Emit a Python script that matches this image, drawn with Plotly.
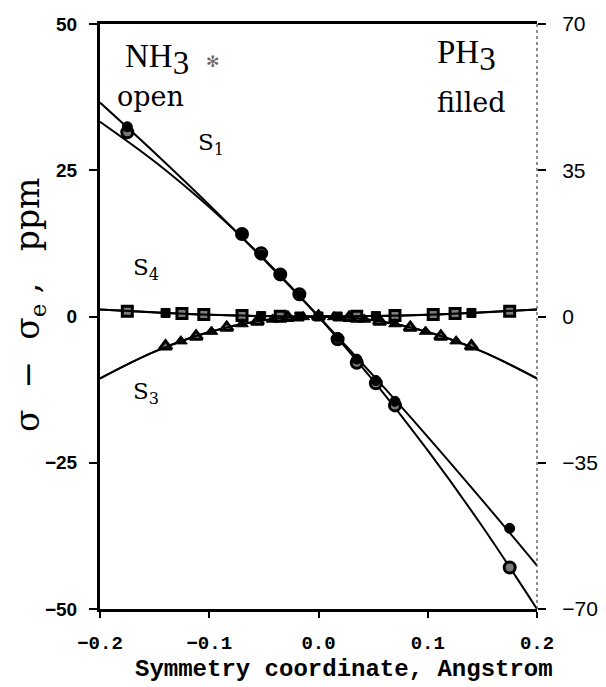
import plotly.graph_objects as go

# ---------------- data ----------------
# fitted curves, sampled along the x axis
x_fit = [-0.2, -0.15, -0.1, -0.05, 0.0, 0.05, 0.1, 0.15, 0.2]
nh3_s1_fit = [33.3, 26.5, 18.7, 9.9, 0.0, -10.9, -22.9, -35.9, -50.0]      # NH3, left axis (ppm)
ph3_s1_fit = [51.2, 39.2, 26.7, 13.6, 0.0, -14.1, -28.8, -44.0, -59.6]     # PH3, right axis (ppm)
nh3_s4_fit = [1.2, 0.7, 0.3, 0.08, 0.0, 0.08, 0.3, 0.7, 1.2]
ph3_s4_fit = [1.7, 1.0, 0.4, 0.1, 0.0, 0.1, 0.4, 1.0, 1.7]
nh3_s3_fit = [-10.6, -6.0, -2.65, -0.66, 0.0, -0.66, -2.65, -6.0, -10.6]
ph3_s3_fit = [-14.8, -8.4, -3.7, -0.9, 0.0, -0.9, -3.7, -8.4, -14.8]

# S1 points
x_s1 = [-0.175, -0.07, -0.0525, -0.035, -0.0175, 0.0175, 0.035, 0.0525, 0.07, 0.175]
nh3_s1 = [31.5, 14.1, 10.8, 7.2, 3.8, -3.9, -7.9, -11.4, -15.2, -42.9]
ph3_s1 = [45.4, 19.6, 14.7, 9.8, 5.0, -5.0, -10.2, -15.3, -20.3, -50.7]

# S4 points
x_s4_nh3 = [-0.175, -0.125, -0.105, -0.07, -0.035, 0.035, 0.07, 0.105, 0.125, 0.175]
nh3_s4 = [0.9, 0.5, 0.35, 0.15, 0.05, 0.05, 0.15, 0.35, 0.5, 0.9]
x_s4_ph3 = [-0.14, -0.0525, -0.0175, 0.0, 0.0175, 0.0525, 0.14]
ph3_s4 = [0.85, 0.1, 0.0, 0.0, 0.0, 0.1, 0.85]

# S3 points
x_s3_nh3 = [-0.14, -0.112, -0.084, -0.056, -0.028, 0.0, 0.028, 0.056, 0.084, 0.112, 0.14]
nh3_s3 = [-5.1, -3.4, -1.9, -0.85, -0.2, 0.0, -0.2, -0.85, -1.9, -3.4, -5.1]
x_s3_ph3 = [-0.126, -0.098, -0.07, -0.042, -0.014, 0.014, 0.042, 0.07, 0.098, 0.126]
ph3_s3 = [-5.9, -3.6, -1.8, -0.7, -0.1, -0.1, -0.7, -1.8, -3.6, -5.9]

x_ticks = [-0.2, -0.1, 0.0, 0.1, 0.2]
x_ticktext = ["\u22120.2", "\u22120.1", "0.0", "0.1", "0.2"]
yl_ticks = [-50, -25, 0, 25, 50]
yl_ticktext = ["\u221250", "\u221225", "0", "25", "50"]
yr_ticks = [-70, -35, 0, 35, 70]
yr_ticktext = ["\u221270", "\u221235", "0", "35", "70"]

# ---------------- figure ----------------
fig = go.Figure()
line = dict(color="black", width=2, shape="spline", smoothing=1.0)

for yv in (nh3_s1_fit, nh3_s4_fit, nh3_s3_fit):
    fig.add_trace(go.Scatter(x=x_fit, y=yv, mode="lines", line=line, yaxis="y", hoverinfo="skip"))
for yv in (ph3_s1_fit, ph3_s4_fit, ph3_s3_fit):
    fig.add_trace(go.Scatter(x=x_fit, y=yv, mode="lines", line=line, yaxis="y2", hoverinfo="skip"))

def open_m(sym, size):
    return dict(symbol=sym, size=size, color="#7a7a7a", line=dict(color="black", width=3))

def filled_m(sym, size):
    return dict(symbol=sym, size=size, color="black", line=dict(color="black", width=1))

fig.add_trace(go.Scatter(x=x_s1, y=nh3_s1, mode="markers", marker=open_m("circle", 11), yaxis="y"))
fig.add_trace(go.Scatter(x=x_s1, y=ph3_s1, mode="markers", marker=filled_m("circle", 10), yaxis="y2"))
fig.add_trace(go.Scatter(x=x_s4_nh3, y=nh3_s4, mode="markers", marker=open_m("square", 10), yaxis="y"))
fig.add_trace(go.Scatter(x=x_s4_ph3, y=ph3_s4, mode="markers", marker=filled_m("square", 9), yaxis="y2"))
fig.add_trace(go.Scatter(x=x_s3_nh3, y=nh3_s3, mode="markers", marker=open_m("triangle-up", 11), yaxis="y"))
fig.add_trace(go.Scatter(x=x_s3_ph3, y=ph3_s3, mode="markers", marker=filled_m("triangle-up", 11), yaxis="y2"))

serif = "DejaVu Serif"
ann = []
def txt(x, y, s, size, xanchor="left", yanchor="bottom", color="black", family=serif, weight="normal", angle=0):
    ann.append(dict(xref="paper", yref="paper", x=x, y=y, text=s, showarrow=False,
                    xanchor=xanchor, yanchor=yanchor, textangle=angle,
                    font=dict(family=family, size=size, color=color, weight=weight)))

L, R, T, B = 100, 537, 24, 609
W, H = R - L, B - T
def px(xp): return (xp - L) / W
def py(yp): return (B - yp) / H

big3 = "<sub><span style='font-size:33px'>3</span></sub>"
txt(px(123), py(83), "NH" + big3, 33, family="Liberation Serif")
txt(px(204), py(73), "\u273B", 16, color="#666666", family="DejaVu Sans")
txt(px(115), py(114), "open", 27)
txt(px(435), py(79), "PH" + big3, 33, family="Liberation Serif")
txt(px(435), py(120), "filled", 27)
txt(px(196), py(161), "S<sub>1</sub>", 23)
txt(px(131), py(286), "S<sub>4</sub>", 23)
txt(px(131), py(410), "S<sub>3</sub>", 23)
txt(px(29), py(305), "\u03C3  \u2212  \u03C3<sub>e</sub> ,   ppm", 33, xanchor="center", yanchor="middle", angle=-90)
txt(px(344), py(669), "Symmetry coordinate, Angstrom", 24, xanchor="center", yanchor="middle",
    family="Liberation Mono", weight="bold")

fig.update_layout(
    width=606, height=687,
    margin=dict(l=L, r=606 - R, t=T, b=687 - B, autoexpand=False),
    paper_bgcolor="white", plot_bgcolor="white",
    showlegend=False,
    annotations=ann,
    shapes=[dict(type="line", xref="paper", yref="paper", x0=1, x1=1, y0=0, y1=1,
                 line=dict(color="#444444", width=1.2, dash="dot"))],
    xaxis=dict(range=[-0.2, 0.2], tickvals=x_ticks, ticktext=x_ticktext, automargin=False,
               showgrid=False, zeroline=False, showline=True, linecolor="black", linewidth=2.5,
               mirror=True, ticks="outside", ticklen=6, tickwidth=1.5, tickcolor="black",
               ticklabelstandoff=8,
               tickfont=dict(family="Liberation Mono", size=19, color="black", weight="bold")),
    yaxis=dict(range=[-50, 50], tickvals=yl_ticks, ticktext=yl_ticktext, automargin=False,
               showgrid=False, zeroline=False, showline=True, linecolor="black", linewidth=3,
               ticks="outside", ticklen=8, tickwidth=1.5, tickcolor="black",
               ticklabelstandoff=8,
               tickfont=dict(family="Liberation Sans", size=19, color="black", weight="bold")),
    yaxis2=dict(range=[-70, 70], tickvals=yr_ticks, ticktext=yr_ticktext, overlaying="y", side="right",
                automargin=False,
                showgrid=False, zeroline=False, showline=False,
                ticks="outside", ticklen=8, tickwidth=1.5, tickcolor="black",
                ticklabelstandoff=12,
                tickfont=dict(family="Liberation Sans", size=21, color="black")),
)

fig.write_html("out.html")
